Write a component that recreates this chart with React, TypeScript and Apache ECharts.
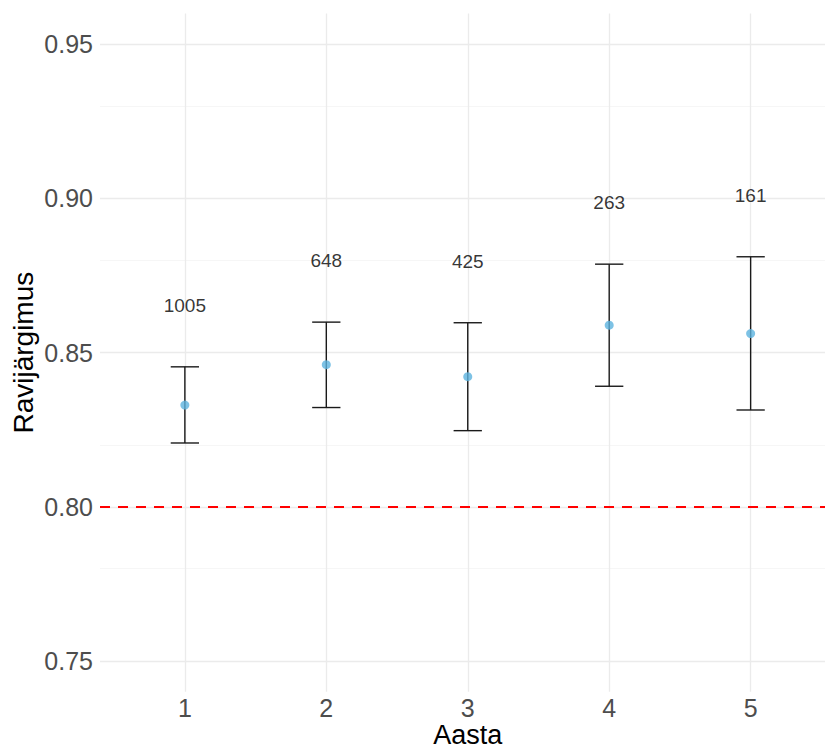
import React, { useEffect, useRef } from "react";
import * as echarts from "echarts";

// Study years on the x axis
const categories = ["1", "2", "3", "4", "5"];
// Adherence estimate per year with its confidence interval
const meanValues = [0.833, 0.8461, 0.8422, 0.8589, 0.8562];
const lowerValues = [0.8207, 0.8322, 0.8247, 0.8391, 0.8314];
const upperValues = [0.8454, 0.8599, 0.8597, 0.8787, 0.8811];
// Number of patients per year, printed above each interval
const counts = [1005, 648, 425, 263, 161];
// Target level
const targetLevel = 0.8;
// Grid line positions
const majorY = [0.75, 0.8, 0.85, 0.9, 0.95];
const minorY = [0.775, 0.825, 0.875, 0.925];

const FONT = '"Liberation Sans", Arial, Helvetica, sans-serif';
const LABEL_OFFSET = 0.02;
const CAP_HALF = 0.1;

export default function App() {
  const ref = useRef<HTMLDivElement>(null);

  useEffect(() => {
    if (!ref.current) return;
    const chart = echarts.init(ref.current, null, { renderer: "svg" });

    const xs = categories.map((_, i) => i + 1);
    const pointData = xs.map((x, i) => [x, meanValues[i]]);
    const barData = xs.map((x, i) => [x, lowerValues[i], upperValues[i]]);
    const labelData = xs.map((x, i) => ({
      value: [x, upperValues[i] + LABEL_OFFSET],
      name: String(counts[i]),
    }));

    const gridMarks = [
      ...majorY.map((v) => ({
        yAxis: v,
        lineStyle: { color: "#ebebeb", width: 1.3, type: "solid" },
      })),
      ...minorY.map((v) => ({
        yAxis: v,
        lineStyle: { color: "#f4f4f4", width: 0.8, type: "solid" },
      })),
      ...xs.map((v) => ({
        xAxis: v,
        lineStyle: { color: "#ebebeb", width: 1.3, type: "solid" },
      })),
    ];

    chart.setOption({
      animation: false,
      backgroundColor: "#ffffff",
      textStyle: { fontFamily: FONT },
      grid: {
        left: 100,
        right: -10.5,
        top: 13.5,
        bottom: 57.2,
        containLabel: false,
        outerBoundsMode: "none",
      },
      xAxis: {
        type: "value",
        min: 0.4,
        max: 5.6,
        name: "Aasta",
        nameLocation: "middle",
        nameGap: 30,
        nameMoveOverlap: false,
        nameTextStyle: {
          fontSize: 27,
          color: "#000000",
          fontFamily: FONT,
        },
        axisLine: { show: false },
        axisTick: { show: false },
        splitLine: { show: false },
        axisLabel: {
          fontSize: 25,
          color: "#4d4d4d",
          margin: 4,
          fontFamily: FONT,
          formatter: (v: number) => {
            const i = Math.round(v);
            return Math.abs(v - i) < 1e-6 && i >= 1 && i <= categories.length
              ? categories[i - 1]
              : "";
          },
        },
      },
      yAxis: {
        type: "value",
        min: 0.74,
        max: 0.96,
        name: "Ravijärgimus",
        nameLocation: "middle",
        nameGap: 63,
        nameMoveOverlap: false,
        nameTextStyle: { fontSize: 28, color: "#000000", fontFamily: FONT },
        axisLine: { show: false },
        axisTick: { show: false },
        splitLine: { show: false },
        axisLabel: {
          fontSize: 25,
          color: "#4d4d4d",
          margin: 7,
          fontFamily: FONT,
          formatter: (v: number) =>
            Math.abs(v * 20 - Math.round(v * 20)) < 1e-6 ? v.toFixed(2) : "",
        },
      },
      series: [
        {
          // panel grid lines, drawn beneath everything else
          type: "line",
          name: "grid",
          z: 0,
          data: [],
          markLine: {
            z: 0,
            silent: true,
            symbol: "none",
            label: { show: false },
            data: gridMarks,
          },
        },
        {
          type: "line",
          name: "target",
          z: 1,
          data: [],
          markLine: {
            z: 1,
            silent: true,
            symbol: "none",
            label: { show: false },
            lineStyle: { color: "#ff0000", width: 2.2, type: [10, 8] },
            data: [{ yAxis: targetLevel }],
          },
        },
        {
          type: "custom",
          name: "interval",
          z: 3,
          data: barData,
          renderItem: (_params: any, api: any) => {
            const x = api.value(0);
            const lo = api.value(1);
            const hi = api.value(2);
            const top = api.coord([x, hi]);
            const bot = api.coord([x, lo]);
            const half = api.size([CAP_HALF, 0])[0];
            const style = { stroke: "#1a1a1a", lineWidth: 1.4 };
            return {
              type: "group",
              children: [
                {
                  type: "line",
                  shape: { x1: top[0], y1: top[1], x2: bot[0], y2: bot[1] },
                  style,
                },
                {
                  type: "line",
                  shape: { x1: top[0] - half, y1: top[1], x2: top[0] + half, y2: top[1] },
                  style,
                },
                {
                  type: "line",
                  shape: { x1: bot[0] - half, y1: bot[1], x2: bot[0] + half, y2: bot[1] },
                  style,
                },
              ],
            };
          },
        },
        {
          type: "scatter",
          name: "mean",
          z: 4,
          symbol: "circle",
          symbolSize: 9,
          itemStyle: { color: "#5cb3de" },
          data: pointData,
        },
        {
          type: "scatter",
          name: "counts",
          z: 5,
          silent: true,
          symbolSize: 0,
          data: labelData,
          label: {
            show: true,
            position: "inside",
            formatter: (p: any) => p.name,
            fontSize: 19,
            color: "#000000",
            fontFamily: FONT,
          },
        },
      ],
    });

    return () => chart.dispose();
  }, []);

  return (
    <div
      ref={ref}
      style={{ position: "absolute", left: 0, top: 0, width: 825, height: 749 }}
    />
  );
}
